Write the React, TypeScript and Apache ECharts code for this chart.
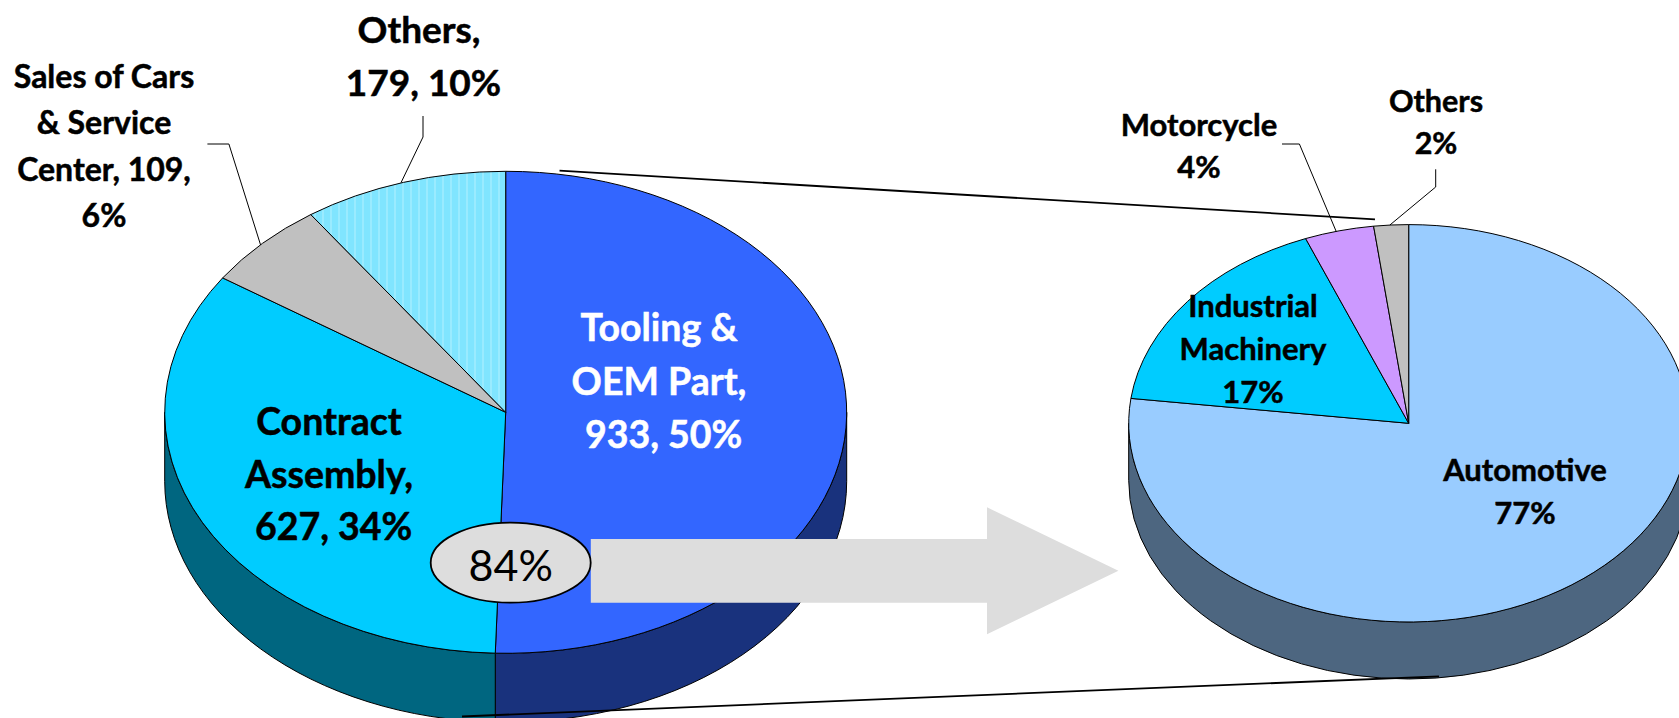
import React, { useEffect, useRef } from "react";
import * as echarts from "echarts";

const leftValues = [933, 627, 109, 179];
const rightValues = [77, 17, 4, 2];
const leftLabels = ["Tooling &\nOEM Part,\n 933, 50%", "Contract\nAssembly,\n 627, 34%", "Sales of Cars\n& Service\nCenter, 109,\n6%", "Others,\n 179, 10%"];
const rightLabels = ["Automotive\n77%", "Industrial\nMachinery\n17%", "Motorcycle\n4%", "Others\n2%"];
const callout = "84%";

const leftFills = ["#3366FF", "#00CCFF", "#C0C0C0", "#80E5FF"];
const leftWalls = ["#19327D", "#006680", "#606060", "#407380"];
const rightFills = ["#99CCFF", "#00CCFF", "#CC99FF", "#C0C0C0"];
const rightWalls = ["#4D6680", "#006680", "#664D80", "#606060"];

const FONT = "Lato, Carlito, Calibri, sans-serif";
const leftGeom = { cx: 505.7, cy: 412.3, rx: 341, ry: 241, depth: 69 };
const rightGeom = { cx: 1408.7, cy: 423.3, rx: 280, ry: 198.7, depth: 57 };
const leftLabelStyle = [
  { x: 659, y: 380, size: 37.5, lh: 53.5, color: "#fff" },
  { x: 329, y: 473, size: 37.5, lh: 52.5, color: "#000" },
  { x: 104, y: 145, size: 32, lh: 46.3, color: "#000" },
  { x: 419, y: 55, size: 37, lh: 53, color: "#000" },
];
const rightLabelStyle = [
  { x: 1525, y: 490, size: 31, lh: 43, color: "#000" },
  { x: 1253, y: 348, size: 31, lh: 43, color: "#000" },
  { x: 1199, y: 145, size: 31, lh: 42.5, color: "#000" },
  { x: 1436, y: 121, size: 30.5, lh: 42, color: "#000" },
];

type Geom = typeof leftGeom;

// Fine vertical hatching of the small light-blue slice.
function stripes(base: string, light: string, x0: number, x1: number) {
  const stops: any[] = [];
  const period = 8;
  const n = Math.ceil((x1 - x0) / period);
  for (let k = 0; k < n; k++) {
    const a = k / n;
    const b = (k + 0.72) / n;
    const c = (k + 1) / n;
    stops.push({ offset: a, color: base }, { offset: b, color: base }, { offset: b, color: light }, { offset: c, color: light });
  }
  return { type: "linear", x: x0, y: 0, x2: x0 + n * period, y2: 0, global: true, colorStops: stops };
}

function pieSeries(
  values: number[],
  fills: any[],
  walls: string[],
  labels: string[],
  styles: typeof leftLabelStyle,
  g: Geom,
  name: string,
) {
  const total = values.reduce((a, b) => a + b, 0);
  const at = (deg: number, dy = 0) => {
    const a = (deg * Math.PI) / 180;
    return `${g.cx + g.rx * Math.sin(a)} ${g.cy - g.ry * Math.cos(a) + dy}`;
  };
  return {
    type: "custom",
    name,
    coordinateSystem: "none",
    silent: true,
    data: values.map((v) => [v]),
    renderItem: (params: any, api: any) => {
      const i = params.dataIndex;
      const before = values.slice(0, i).reduce((a, b) => a + b, 0);
      const a0 = (before / total) * 360;
      const a1 = ((before + api.value(0)) / total) * 360;
      const children: any[] = [];
      const s = Math.max(a0, 90);
      const e = Math.min(a1, 270);
      if (e > s) {
        const large = e - s > 180 ? 1 : 0;
        children.push({
          type: "path",
          shape: {
            pathData: `M${at(s)} A${g.rx} ${g.ry} 0 ${large} 1 ${at(e)} L${at(e, g.depth)} A${g.rx} ${g.ry} 0 ${large} 0 ${at(s, g.depth)} Z`,
          },
          style: { fill: walls[i], stroke: "#000", lineWidth: 1 },
        });
      }
      children.push({
        type: "path",
        shape: {
          pathData: `M${g.cx} ${g.cy} L${at(a0)} A${g.rx} ${g.ry} 0 ${a1 - a0 > 180 ? 1 : 0} 1 ${at(a1)} Z`,
        },
        style: { fill: fills[i], stroke: "#000", lineWidth: 1, lineJoin: "round" },
      });
      const l = styles[i];
      children.push({
        type: "text",
        z2: 50,
        x: l.x,
        y: l.y,
        style: {
          text: labels[i],
          fill: l.color,
          stroke: l.color,
          lineWidth: 0.5,
          font: `bold ${l.size}px ${FONT}`,
          lineHeight: l.lh,
          align: "center",
          verticalAlign: "middle",
        },
      });
      return { type: "group", children };
    },
  };
}

export default function App() {
  const ref = useRef<HTMLDivElement>(null);
  useEffect(() => {
    const chart = echarts.init(ref.current!, null, { renderer: "svg" });
    const leaders = [
      [[423, 116], [423, 137], [401, 182.7]],
      [[207.4, 144], [228.9, 144], [260.6, 245]],
      [[1282, 144], [1299.4, 144], [1336.3, 231.7]],
      [[1435.7, 169.3], [1435.7, 187], [1389.9, 225]],
    ];
    const hatchedFills = leftFills.map((c, i) => (i === 3 ? stripes(c, "#9AEBFF", 308, 506) : c));
    chart.setOption({
      animation: false,
      backgroundColor: "#fff",
      series: [
        pieSeries(leftValues, hatchedFills, leftWalls, leftLabels, leftLabelStyle, leftGeom, "Sales"),
        pieSeries(rightValues, rightFills, rightWalls, rightLabels, rightLabelStyle, rightGeom, "Tooling & OEM Part customers"),
      ],
      graphic: {
        elements: [
          ...leaders.map((points) => ({
            type: "polyline",
            z: 5,
            shape: { points },
            style: { stroke: "#000", lineWidth: 1, fill: "none" },
          })),
          { type: "line", z: 6, shape: { x1: 559.5, y1: 170.7, x2: 1375, y2: 219.3 }, style: { stroke: "#000", lineWidth: 1.8 } },
          { type: "line", z: 6, shape: { x1: 462, y1: 716.5, x2: 1439, y2: 676.3 }, style: { stroke: "#000", lineWidth: 1.8 } },
          {
            type: "polygon",
            z: 7,
            shape: {
              points: [[590.8, 539], [987, 539], [987, 507.3], [1118.4, 570.7], [987, 634.3], [987, 602.7], [590.8, 602.7]],
            },
            style: { fill: "#DDDDDD", stroke: "none" },
          },
          {
            type: "ellipse",
            z: 8,
            shape: { cx: 510.7, cy: 562.7, rx: 80, ry: 40 },
            style: { fill: "#DDDDDD", stroke: "#000", lineWidth: 1.8 },
          },
          {
            type: "text",
            z: 9,
            x: 510.7,
            y: 564,
            style: { text: callout, font: `400 43px ${FONT}`, fill: "#000", align: "center", verticalAlign: "middle" },
          },
        ],
      },
    });
    return () => chart.dispose();
  }, []);
  return <div ref={ref} style={{ position: "fixed", left: 0, top: 0, width: 1679, height: 718, overflow: "hidden" }} />;
}
